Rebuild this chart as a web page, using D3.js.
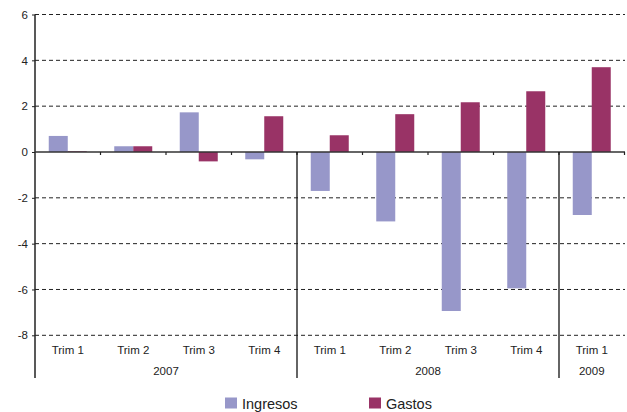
<!DOCTYPE html>
<html><head><meta charset="utf-8">
<script src="https://cdn.jsdelivr.net/npm/d3@7"></script>
<style>body{margin:0;background:#fff;} svg{display:block;font-family:"Liberation Sans",Arial,sans-serif;}</style>
</head><body>
<script>
const quarters = ["Trim 1","Trim 2","Trim 3","Trim 4","Trim 1","Trim 2","Trim 3","Trim 4","Trim 1"];
const years = [{label:"2007",start:0,end:4},{label:"2008",start:4,end:8},{label:"2009",start:8,end:9}];
const ingresos = [0.7,0.25,1.73,-0.32,-1.7,-3.03,-6.94,-5.95,-2.75];
const gastos = [0.03,0.25,-0.41,1.56,0.73,1.65,2.17,2.65,3.7];
const yTicks = [6,4,2,0,-2,-4,-6,-8];
const seriesNames = ["Ingresos","Gastos"];
const colors = ["#9797c9","#993366"];

(function(){
const W=627,H=412;
const mL=35,mR=624.5,mT=14.5,mB=335.3;
const svg=d3.select("body").append("svg").attr("width",W).attr("height",H);
const y=d3.scaleLinear().domain([-8,6]).range([mB,mT]);
const idx=d3.range(quarters.length);
const x=d3.scaleBand().domain(idx).range([mL,mR]).paddingInner(0).paddingOuter(0);
const xs=d3.scaleBand().domain([0,1]).range([0,38]);
const groupOff=(x.bandwidth()-38)/2;
const xEdge=i=>i<quarters.length?x(i):mR;

// gridlines
svg.append("g").selectAll("line").data(yTicks.filter(d=>d!==0)).join("line")
  .attr("x1",mL).attr("x2",W-2).attr("y1",d=>y(d)).attr("y2",d=>y(d))
  .attr("stroke","#222").attr("stroke-width",1).attr("stroke-dasharray","4,3");

// bars
const data=[];
idx.forEach(i=>{data.push({i,s:0,v:ingresos[i]});data.push({i,s:1,v:gastos[i]});});
svg.append("g").selectAll("rect").data(data).join("rect")
  .attr("x",d=>x(d.i)+groupOff+xs(d.s)).attr("width",xs.bandwidth())
  .attr("y",d=>y(Math.max(0,d.v))).attr("height",d=>Math.abs(y(d.v)-y(0)))
  .attr("fill",d=>colors[d.s]);

// y axis
const ya=d3.axisLeft(y).tickValues(yTicks).tickSize(3).tickFormat(d=>String(d));
const yg=svg.append("g").attr("transform",`translate(${mL},0)`).call(ya);
yg.select(".domain").remove();
yg.selectAll("text").attr("font-size",11.5).attr("fill","#222").attr("x",-7);
yg.selectAll("line").attr("stroke","#222");
svg.append("line").attr("x1",mL).attr("x2",mL).attr("y1",mT).attr("y2",378).attr("stroke","#222").attr("stroke-width",1.5);

// zero line
svg.append("line").attr("x1",mL).attr("x2",W-2).attr("y1",y(0)).attr("y2",y(0)).attr("stroke","#333").attr("stroke-width",1.5);
// category ticks
svg.append("g").selectAll("line").data(d3.range(1,quarters.length+1)).join("line")
  .attr("x1",xEdge).attr("x2",xEdge)
  .attr("y1",y(0)).attr("y2",y(0)+3).attr("stroke","#222").attr("stroke-width",1.2);
// year separators
svg.append("g").selectAll("line").data(years.slice(1)).join("line")
  .attr("x1",d=>x(d.start)).attr("x2",d=>x(d.start)).attr("y1",y(0)).attr("y2",378)
  .attr("stroke","#111").attr("stroke-width",1.3);

// category labels
svg.append("g").selectAll("text").data(idx).join("text")
  .attr("x",i=>x(i)+x.bandwidth()/2).attr("y",354).attr("text-anchor","middle")
  .attr("font-size",11.5).attr("fill","#222").text(i=>quarters[i]);
// year labels
svg.append("g").selectAll("text").data(years).join("text")
  .attr("x",d=>(x(d.start)+xEdge(d.end))/2).attr("y",375).attr("text-anchor","middle")
  .attr("font-size",11.5).attr("fill","#222").text(d=>d.label);

// legend
const lx=[225,369];
const lg=svg.append("g").selectAll("g").data(seriesNames).join("g").attr("transform",(d,i)=>`translate(${lx[i]},397.5)`);
lg.append("rect").attr("width",12).attr("height",11).attr("fill",(d,i)=>colors[i]);
lg.append("text").attr("x",17).attr("y",11).attr("font-size",14.5).attr("fill","#222").text(d=>d);
})();
</script>
</body></html>
